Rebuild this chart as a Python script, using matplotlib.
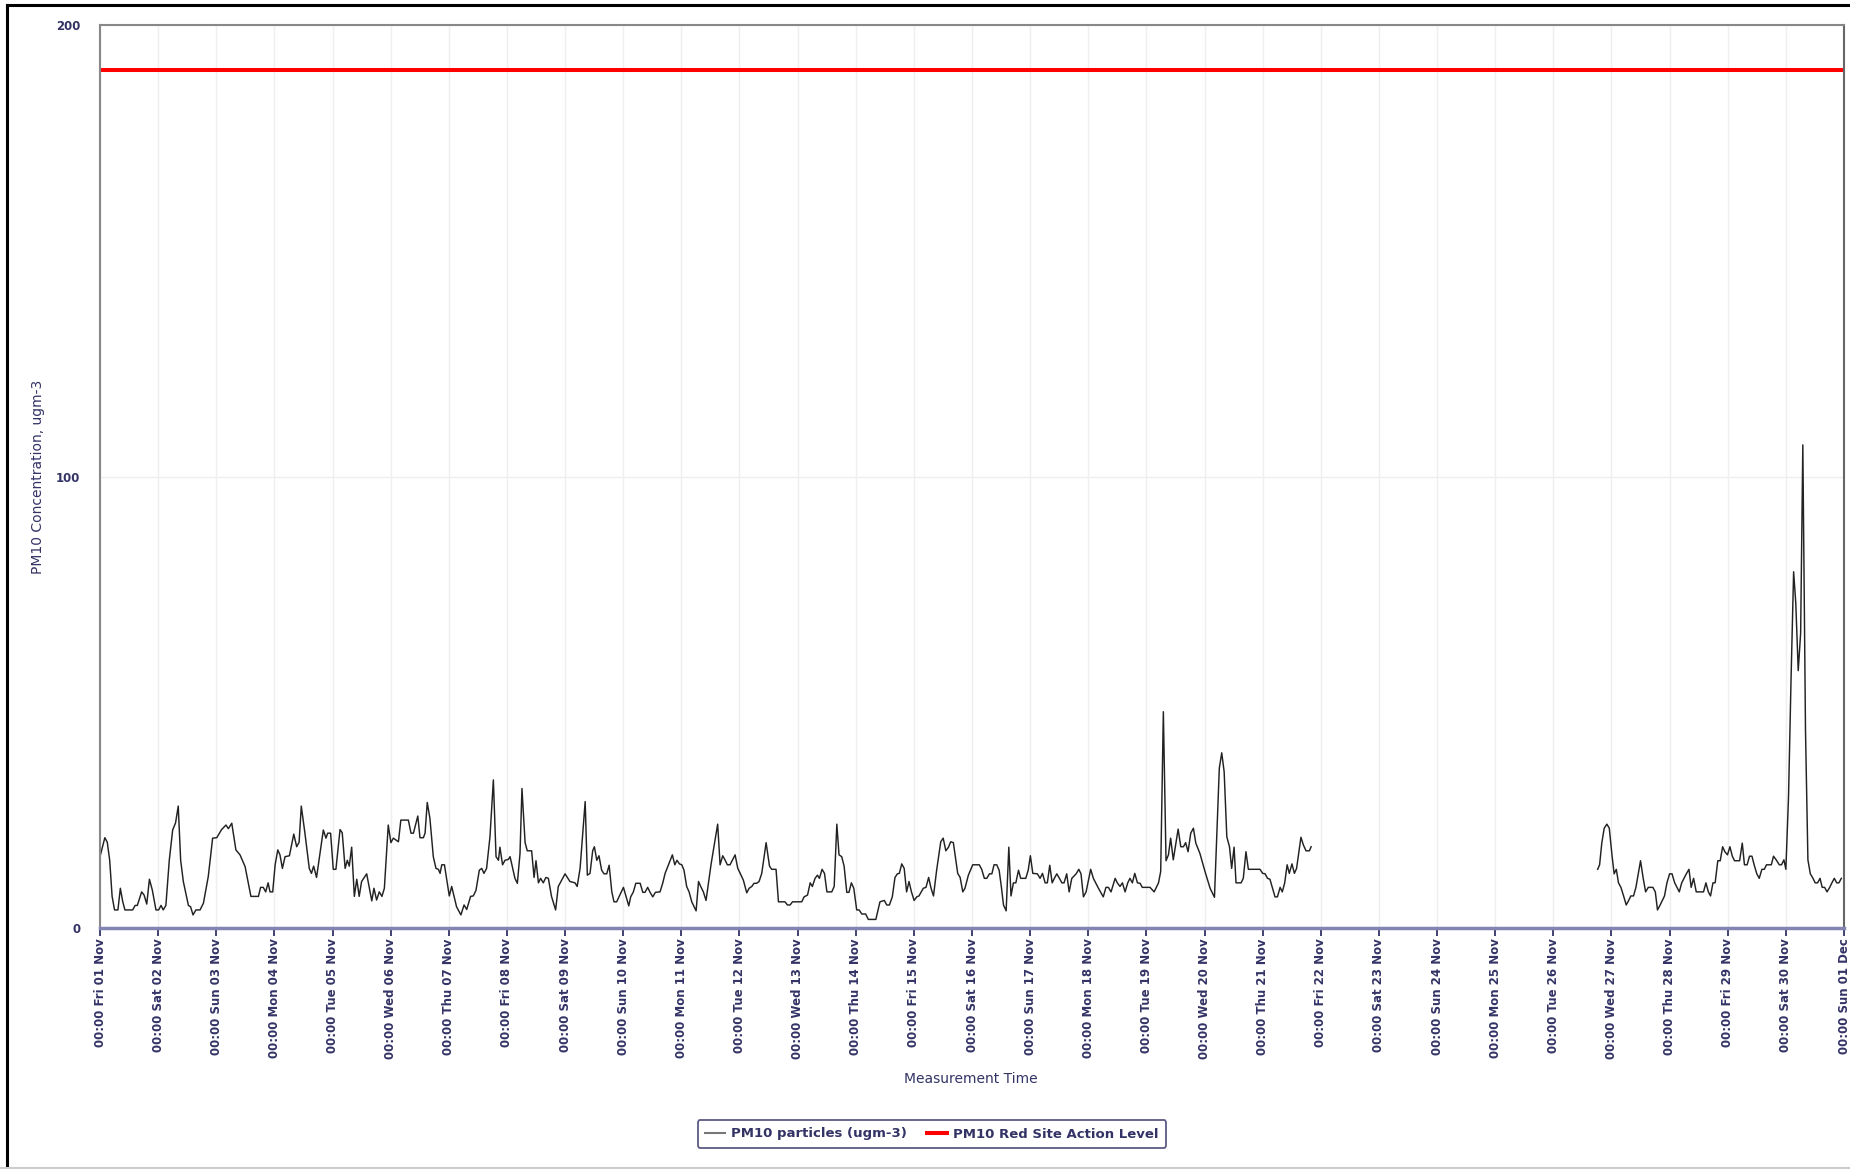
import numpy as np
import pandas as pd
import matplotlib
matplotlib.use("Agg")
import matplotlib.pyplot as plt
from matplotlib.lines import Line2D

# ---------------- data (hours after 00:00 Fri 01 Nov) ----------------
seg1_hours = [
    0, 2, 3, 4, 5, 6, 7.4, 8.4, 9.4, 10.3,
    13.5, 14.5, 15.4, 17.2, 18.2, 19.3, 20.4, 21.6, 23.1, 24.2,
    25.2, 26.1, 27.2, 28.6, 30, 31.2, 32.3, 33.3, 34.4, 36.5,
    37.4, 38.4, 39.6, 41.3, 42.7, 44.7, 46.5, 48.2, 50.2, 52,
    53, 54.4, 56.1, 57.8, 59.9, 62.3, 65.4, 66.3, 67.4, 68.4,
    69.4, 70.2, 71.3, 72.3, 73.4, 74.3, 75.3, 76.4, 78.2, 80,
    81.2, 82.2, 83.1, 84.6, 86.4, 87.3, 88.2, 89.4, 90.8, 92.2,
    93.3, 94, 95.2, 96.3, 97.4, 99.1, 100, 101.2, 102.1, 102.9,
    103.9, 105, 106, 107, 108, 110.1, 112.2, 113.1, 114.2, 115.3,
    116.4, 117.4, 119, 120.1, 121.1, 123.2, 124.2, 127.3, 128.4, 129.4,
    131.2, 132.1, 133.5, 134.2, 135.1, 136.2, 137.6, 138.7, 139.7, 140.4,
    141.1, 142.2, 144.2, 145.2, 147.2, 149, 150.3, 151.4, 153, 154.1,
    155.2, 156.6, 157.6, 158.5, 159.6, 161, 162.4, 163.5, 164.5, 165.1,
    166.2, 167.2, 168.6, 169.3, 171.3, 172.3, 173.4, 174.2, 175.5, 176.4,
    178.2, 179.2, 180, 181, 181.9, 183, 184.1, 185.1, 186.4, 188.1,
    189.2, 192, 194, 196.1, 197, 198.2, 200.3, 201.2, 202.3, 203.4,
    204.1, 205.1, 206, 207.1, 208.1, 209.2, 210.2, 211.3, 212.2, 213.3,
    216.1, 218.3, 219.1, 220.2, 221.2, 223, 224.1, 225, 226.1, 227.1,
    228.2, 229.3, 231.2, 232.3, 233.3, 234.7, 236.3, 237.3, 238.2, 239.2,
    240.2, 241.1, 242.2, 243.2, 244.3, 245.3, 246.1, 247.1, 248, 249.1,
    250.2, 252.3, 255, 256, 257.1, 258.1, 259, 260.1, 262.2, 263.3,
    264.3, 265.6, 267, 268, 269.1, 270, 271.1, 272.1, 273.2, 275,
    276.4, 277.3, 279.1, 280.1, 282.8, 283.8, 284.9, 285.9, 289.7, 290.7,
    292.1, 293.2, 294.1, 295.2, 296.2, 297, 298.1, 299.1, 300.1, 302.1,
    303.1, 304.2, 305.1, 306.2, 307.2, 308.3, 309.2, 310.2, 311.2, 312.4,
    313.4, 314.5, 316.1, 317.2, 320.3, 322, 323.8, 324.8, 325.9, 327.1,
    328.2, 329.2, 330, 331, 332, 333, 334, 335, 336.1, 337.2,
    338.1, 339.9, 341, 342.1, 343.1, 344.1, 345.4, 347.1, 348.1, 349.2,
    350.3, 351.2, 352.3, 354.1, 355.1, 356.2, 357.1, 358.5, 360.3, 363,
    364, 365.1, 366.1, 367.2, 368.2, 369.1, 370.2, 371.2, 372.1, 373,
    374.1, 375.2, 376.1, 377.1, 378.1, 379.2, 380.1, 382.2, 383.2, 384.1,
    385.1, 387, 388.1, 389.1, 390.2, 391.1, 392.1, 393.1, 394, 395,
    396.1, 397.1, 398, 399.1, 400.1, 401.2, 403, 404.1, 405, 406,
    407.1, 409, 410.1, 412.2, 414.2, 415.3, 416.3, 417.4, 419.1, 420,
    421.1, 422.1, 423.2, 424.3, 425.2, 426.2, 427.2, 428.3, 429.4, 430.3,
    433.5, 435.2, 437, 437.9, 439, 440.1, 441.1, 442, 443.1, 445.1,
    446.2, 447.3, 448.2, 449.2, 450.3, 451.4, 452.4, 454.1, 456.2, 458.3,
    460.1, 462.1, 463.1, 464.1, 465.2, 466.3, 467.2, 468.2, 469, 471.1,
    472, 473.1, 474.1, 478.9, 480, 481, 482, 483, 485.1, 486.1,
    487.2, 488.1, 489.1, 490.1, 491, 492.1, 493.1, 494, 495.8, 496.8,
    497.9, 499.3, 500,
]
seg1_values = [
    15.8, 20, 19, 15, 7, 4, 4, 8.8, 5.8, 4,
    4, 5, 5, 8, 7.3, 5.3, 10.8, 8.4, 4, 4,
    5, 4, 5, 15, 21.7, 23.3, 27, 15, 10.3, 5,
    4.7, 2.9, 4, 4, 5.5, 11.4, 19.9, 20, 21.8, 22.8,
    22, 23.2, 17.3, 16.2, 13.6, 7, 7, 9, 9, 8,
    10, 8, 8, 14, 17.3, 16.2, 13.2, 15.8, 16, 20.8,
    18, 19, 27, 21, 13.2, 12.1, 13.7, 11.2, 16.5, 21.7,
    19.9, 21, 21, 13, 13, 21.8, 21.1, 13.2, 15, 13.7,
    17.9, 7, 10.8, 7, 10.3, 12, 6, 8.8, 6.2, 8,
    7, 8.8, 22.8, 18.9, 19.9, 19.1, 23.9, 23.9, 21, 21,
    24.8, 20, 20, 21, 27.8, 24.3, 15.8, 13.2, 13, 12.1,
    14, 14, 7.1, 9.2, 4.7, 2.9, 5.1, 4.1, 7, 7.1,
    8.3, 12.8, 13.2, 12.1, 13.2, 20.2, 32.8, 15.8, 15, 17.9,
    14, 15, 15.2, 15.8, 11, 9.9, 16.5, 30.9, 18.9, 17.1,
    17.1, 11.2, 14.9, 10, 11, 10, 11.2, 11, 7, 4,
    9.2, 12, 10.3, 10, 9.2, 13.2, 28, 11.7, 12.1, 17.1,
    18, 15, 16, 12.8, 12, 12, 13.9, 8, 5.8, 5.8,
    9, 4.9, 6.9, 8, 9.9, 9.9, 7.9, 7.9, 9, 7.9,
    6.9, 7.9, 8, 9.9, 12.1, 14, 16.2, 14, 15, 14.2,
    14, 12.8, 9.2, 8, 5.8, 4.7, 3.8, 10.3, 9.2, 8,
    6.1, 14.2, 23, 14, 16, 15, 14, 14, 16.2, 13.2,
    12.1, 10.6, 7.8, 8.8, 9.2, 9.9, 9.9, 10.3, 12.1, 18.9,
    13.7, 13, 13, 5.8, 5.8, 5.1, 5.1, 5.8, 5.8, 6.9,
    7.3, 10, 9.2, 11, 11.7, 11, 13, 12.1, 8, 8,
    9.2, 23, 16.2, 15.8, 13.7, 7.9, 7.9, 10, 8.8, 4,
    4, 3.1, 3.1, 1.9, 1.9, 5.8, 6.1, 5.1, 5.1, 6.9,
    11.2, 12, 12.1, 14.2, 13.2, 8, 10.3, 8, 6.1, 6.9,
    7.1, 8.8, 9, 11.2, 8.8, 7.1, 12.8, 19.1, 19.9, 17.1,
    17.9, 19.1, 18.9, 12.1, 11.2, 8, 8.8, 11.7, 14, 14,
    13, 11, 11, 12, 12, 14, 14, 12.8, 9.2, 5.1,
    3.8, 17.9, 7.1, 10, 10, 12.8, 11, 11, 12.8, 16,
    12.1, 12, 11, 12.1, 10, 10, 13.9, 10, 11, 12,
    11, 10, 10, 12, 8, 11, 12, 13, 12, 6.9,
    8, 13, 11, 8.8, 6.9, 9, 9, 8, 11, 10,
    9.2, 10, 8, 10, 11, 10, 12.1, 10, 9.9, 9,
    9, 8, 10, 12.5, 47.9, 14.9, 16.2, 19.9, 15.1, 21.9,
    18, 18, 18.9, 16.9, 21, 22.1, 18.8, 16.5, 12.5, 8.8,
    6.8, 35.4, 38.8, 34.6, 20.2, 18, 13.2, 17.9, 10, 10,
    11, 16.9, 13, 13, 12.1, 12, 11, 10.8, 6.9, 6.9,
    9, 8, 10, 14, 12.1, 14.2, 12.1, 13.2, 20.1, 18.4,
    17.1, 17.1, 18,
]

seg2_hours = [
    618.3, 619.1, 620, 621, 622.1, 623.1, 624.2, 625.1, 626, 626.9,
    627.9, 629, 630.1, 631.1, 632, 633.1, 634.1, 636, 637.1, 638.1,
    639.2, 641.1, 642.1, 643, 644.1, 645.9, 646.9, 648, 649, 650.1,
    652, 653, 654.9, 656, 656.9, 657.9, 659, 662, 663, 664,
    664.9, 665.9, 666.8, 667.9, 668.9, 669.9, 670.8, 671.9, 672.9, 673.9,
    674.8, 676.9, 678, 678.9, 680, 681, 682, 682.9, 684, 685,
    686.1, 687.1, 688, 690, 690.9, 692, 693.3, 694.2, 695.2, 696,
    697.1, 698.1, 699.2, 700.1, 701.1, 702.1, 703, 704.1, 705.1, 706.1,
    707.2, 708.1, 709.1, 710.1, 711, 712, 713, 714.1, 715, 716,
    717, 717.9, 718.9,
]
seg2_values = [
    13, 14, 18.8, 22.1, 23, 22.1, 16.2, 12, 13, 10,
    9, 7.1, 5.1, 6.1, 7.1, 7.1, 9, 14.9, 11, 8,
    9, 9, 8, 4, 5.1, 7.1, 10, 12, 12, 10,
    8, 10, 12, 13, 9, 11, 8, 8, 10, 8,
    7.1, 10, 10, 14.9, 14.9, 18, 16.9, 16.2, 18, 15.9,
    14.9, 14.9, 18.8, 14, 14, 15.9, 15.9, 14, 12, 11,
    13, 13, 14, 14, 15.9, 15.1, 14, 14, 15.1, 13,
    29.1, 54.2, 78.9, 71.9, 57, 65.3, 107, 43.9, 15.1, 12,
    11, 10, 10, 11, 9, 9, 8, 9, 10, 11,
    10, 10, 11,
]

action_level = 190
start_date = "2019-11-01"
end_date = "2019-12-01"
y_ticks = [0, 100, 200]
series_labels = ["PM10 particles (ugm-3)", "PM10 Red Site Action Level"]

# ---------------- plotting ----------------
NAVY = "#333366"
base = np.datetime64(start_date + "T00:00")


def to_time(hours):
    return base + (np.asarray(hours) * 3600).astype("timedelta64[s]")


fig = plt.figure(figsize=(18.5, 11.69), dpi=100)
ax = fig.add_axes([100 / 1850, 1 - 928 / 1169, 1744 / 1850, 903 / 1169])

ax.plot(to_time(seg1_hours), seg1_values, color="#222222", lw=1.05)
ax.plot(to_time(seg2_hours), seg2_values, color="#222222", lw=1.05)
ax.axhline(action_level, color="#ff0000", lw=2.9)

ticks = pd.date_range(start_date, end_date, freq="D")
ax.set_xlim(ticks[0], ticks[-1])
ax.set_ylim(0, 200)
ax.set_xticks(ticks.to_numpy())
ax.set_xticklabels([t.strftime("%H:%M %a %d %b") for t in ticks],
                   rotation=90, ha="center", va="top",
                   fontsize=8.5, fontweight="bold", color=NAVY)
ax.set_yticks(y_ticks)
ax.set_yticklabels([str(v) for v in y_ticks], fontsize=8.5,
                   fontweight="bold", color=NAVY)

ax.tick_params(axis="x", length=6, width=1.3, color=NAVY, pad=1.5)
ax.tick_params(axis="y", length=0, pad=14)

ax.grid(True, color="#efefef", lw=1.0)
ax.set_axisbelow(True)

for side in ("left", "top"):
    ax.spines[side].set_color("#888888")
    ax.spines[side].set_linewidth(1.5)
ax.spines["right"].set_color("#666666")
ax.spines["right"].set_linewidth(1.5)
ax.spines["bottom"].set_color("#8484b4")
ax.spines["bottom"].set_linewidth(2.5)

ax.set_ylabel("PM10 Concentration, ugm-3", fontsize=10, color=NAVY)
ax.yaxis.set_label_coords(-55 / 1744, 0.5)

fig.text(971 / 1850, 1 - 1079 / 1169, "Measurement Time", ha="center",
         va="center", fontsize=10, color=NAVY)

handles = [Line2D([], [], color="#777777", lw=1.5),
           Line2D([], [], color="#ff0000", lw=2.9)]
leg = fig.legend(handles, series_labels, loc="center",
                 bbox_to_anchor=(932 / 1850, 1 - 1134 / 1169), ncol=2,
                 frameon=True, fancybox=True, edgecolor=NAVY,
                 prop={"size": 9.5, "weight": "bold"}, labelcolor=NAVY,
                 handlelength=1.5, handletextpad=0.5, columnspacing=1.5,
                 borderpad=0.55)
leg.get_frame().set_linewidth(1.3)

# outer frame of the screenshot
fig.add_artist(Line2D([7 / 1850, 7 / 1850], [0, 1 - 5 / 1169],
                      transform=fig.transFigure, color="black", lw=2.2))
fig.add_artist(Line2D([7 / 1850, 1], [1 - 5 / 1169, 1 - 5 / 1169],
                      transform=fig.transFigure, color="black", lw=2.2))
fig.add_artist(Line2D([0, 1], [1.5 / 1169, 1.5 / 1169],
                      transform=fig.transFigure, color="#cccccc", lw=1.5))

fig.savefig("out.png", dpi=100)
